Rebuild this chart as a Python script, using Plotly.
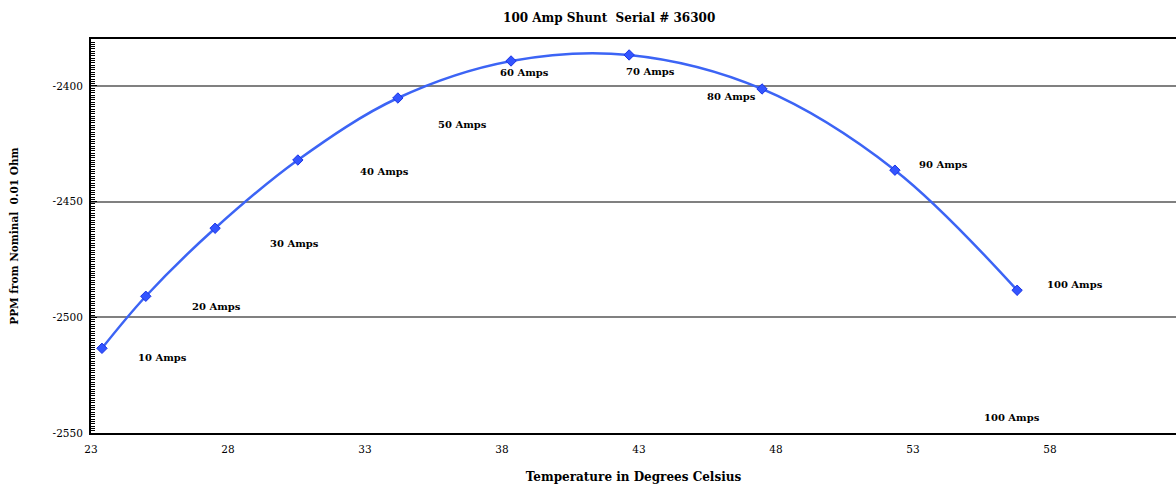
import plotly.graph_objects as go

# Data
temps = [23.4, 25.0, 27.53, 30.55, 34.2, 38.33, 42.64, 47.49, 52.34, 56.8]
ppm = [-2513.4, -2490.9, -2461.5, -2432.0, -2405.2, -2389.2, -2386.6, -2401.3, -2436.4, -2488.3]
labels = ["10 Amps", "20 Amps", "30 Amps", "40 Amps", "50 Amps",
          "60 Amps", "70 Amps", "80 Amps", "90 Amps", "100 Amps"]
label_dx = [61, 71, 79, 87, 65, 13, 21, -31, 49, 58]
label_dy = [-9, -10, -15, -11, -26, -12, -17, -8, 6, 6]
x_ticks = [23, 28, 33, 38, 43, 48, 53, 58, 63]
y_ticks = [-2550, -2500, -2450, -2400]

serif = "DejaVu Serif, Liberation Serif, serif"

fig = go.Figure()
fig.add_trace(go.Scatter(
    x=temps, y=ppm, mode="lines+markers",
    line=dict(color="#3c64f5", width=2.5, shape="spline", smoothing=1.0),
    marker=dict(symbol="diamond", size=8, color="#3355ff",
                line=dict(color="#1a33e6", width=1)),
    showlegend=False,
))

annotations = []
for xv, yv, t, dx, dy in zip(temps, ppm, labels, label_dx, label_dy):
    annotations.append(dict(x=xv, y=yv, xref="x", yref="y", text="<b>" + t + "</b>",
                            showarrow=False, xshift=dx, yshift=dy,
                            font=dict(family=serif, size=10, color="black")))
# stray extra label near the bottom
annotations.append(dict(x=56.6, y=-2543.3, xref="x", yref="y", text="<b>100 Amps</b>",
                        showarrow=False,
                        font=dict(family=serif, size=10, color="black")))

fig.update_layout(
    width=1176, height=484,
    margin=dict(l=91, r=0, t=39, b=51),
    paper_bgcolor="white", plot_bgcolor="white",
    title=dict(text="<b>100 Amp Shunt  Serial # 36300</b>", x=0.518, xanchor="center",
               y=0.963, yanchor="middle",
               font=dict(family=serif, size=12, color="black")),
    font=dict(family=serif, size=11, color="black"),
    annotations=annotations,
)
fig.update_xaxes(
    range=[23, 23 + (1176 - 91) / 27.4],
    tickvals=x_ticks, ticktext=[str(v) for v in x_ticks],
    showgrid=False, zeroline=False,
    showline=True, linecolor="black", linewidth=2, mirror=True,
    ticks="", ticklabelstandoff=5,
    title=dict(text="<b>Temperature in Degrees Celsius</b>", standoff=20,
               font=dict(family=serif, size=12, color="black")),
    tickfont=dict(family=serif, size=10.5, color="black"),
    automargin=False,
)
fig.update_yaxes(
    range=[-2550, -2379.7],
    tickvals=y_ticks, ticktext=[str(v) for v in y_ticks],
    showgrid=True, gridcolor="#808080", gridwidth=1.5, zeroline=False,
    showline=True, linecolor="black", linewidth=2,
    ticks="inside", ticklen=6, tickcolor="black", tickwidth=1,
    ticklabelstandoff=4,
    minor=dict(ticks="inside", dtick=1, tick0=-2550, ticklen=4, tickcolor="black",
               tickwidth=1, showgrid=False),
    title=dict(text="<b>PPM from Nominal  0.01 Ohm</b>", standoff=32,
               font=dict(family=serif, size=10.5, color="black")),
    tickfont=dict(family=serif, size=10.5, color="black"),
    automargin=False,
)

fig.write_html("out.html", config={"displayModeBar": False},
               post_script="document.body.style.margin='0';document.body.style.overflow='hidden';")
